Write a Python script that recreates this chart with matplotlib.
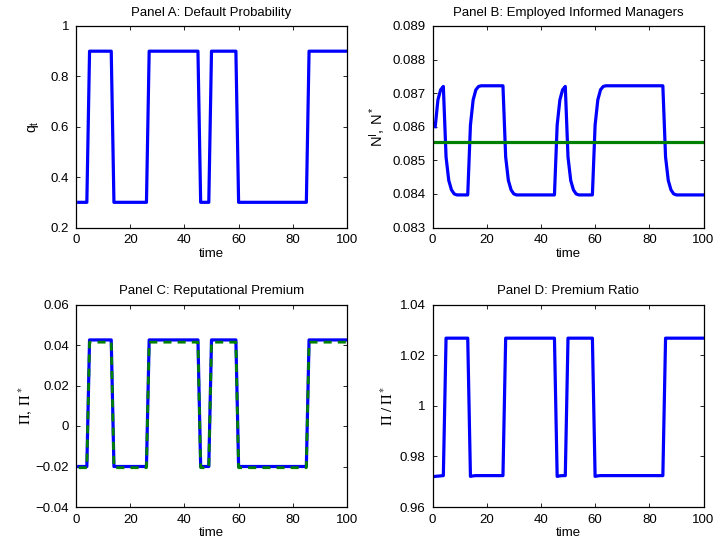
import numpy as np
import matplotlib
matplotlib.use("Agg")
import matplotlib.pyplot as plt
from matplotlib.ticker import FuncFormatter, MultipleLocator

plt.rcParams['font.family'] = ['Liberation Sans', 'DejaVu Sans']
plt.rcParams['mathtext.fontset'] = 'custom'
plt.rcParams['mathtext.rm'] = 'Liberation Sans'
plt.rcParams['mathtext.it'] = 'Liberation Sans:italic'
plt.rcParams['mathtext.bf'] = 'Liberation Sans:bold'

# ---------------- data ----------------
time = np.arange(1, 101)

q_t = [
    0.3, 0.3, 0.3, 0.3, 0.9, 0.9, 0.9, 0.9, 0.9, 0.9,
    0.9, 0.9, 0.9, 0.3, 0.3, 0.3, 0.3, 0.3, 0.3, 0.3,
    0.3, 0.3, 0.3, 0.3, 0.3, 0.3, 0.9, 0.9, 0.9, 0.9,
    0.9, 0.9, 0.9, 0.9, 0.9, 0.9, 0.9, 0.9, 0.9, 0.9,
    0.9, 0.9, 0.9, 0.9, 0.9, 0.3, 0.3, 0.3, 0.3, 0.9,
    0.9, 0.9, 0.9, 0.9, 0.9, 0.9, 0.9, 0.9, 0.9, 0.3,
    0.3, 0.3, 0.3, 0.3, 0.3, 0.3, 0.3, 0.3, 0.3, 0.3,
    0.3, 0.3, 0.3, 0.3, 0.3, 0.3, 0.3, 0.3, 0.3, 0.3,
    0.3, 0.3, 0.3, 0.3, 0.3, 0.9, 0.9, 0.9, 0.9, 0.9,
    0.9, 0.9, 0.9, 0.9, 0.9, 0.9, 0.9, 0.9, 0.9, 0.9,
]

N_I = [
    0.08600, 0.08680, 0.08710, 0.08720, 0.08510, 0.08440, 0.08412, 0.08400, 0.08397, 0.08397,
    0.08397, 0.08397, 0.08397, 0.08605, 0.08680, 0.08710, 0.08720, 0.08722, 0.08722, 0.08722,
    0.08722, 0.08722, 0.08722, 0.08722, 0.08722, 0.08722, 0.08510, 0.08440, 0.08412, 0.08400,
    0.08397, 0.08397, 0.08397, 0.08397, 0.08397, 0.08397, 0.08397, 0.08397, 0.08397, 0.08397,
    0.08397, 0.08397, 0.08397, 0.08397, 0.08397, 0.08605, 0.08680, 0.08710, 0.08720, 0.08510,
    0.08440, 0.08412, 0.08400, 0.08397, 0.08397, 0.08397, 0.08397, 0.08397, 0.08397, 0.08605,
    0.08680, 0.08710, 0.08720, 0.08722, 0.08722, 0.08722, 0.08722, 0.08722, 0.08722, 0.08722,
    0.08722, 0.08722, 0.08722, 0.08722, 0.08722, 0.08722, 0.08722, 0.08722, 0.08722, 0.08722,
    0.08722, 0.08722, 0.08722, 0.08722, 0.08722, 0.08510, 0.08440, 0.08412, 0.08400, 0.08397,
    0.08397, 0.08397, 0.08397, 0.08397, 0.08397, 0.08397, 0.08397, 0.08397, 0.08397, 0.08397,
]

N_star = 0.08556

Pi = [
    -0.0200, -0.0200, -0.0200, -0.0200, 0.0425, 0.0425, 0.0425, 0.0425, 0.0425, 0.0425,
    0.0425, 0.0425, 0.0425, -0.0200, -0.0200, -0.0200, -0.0200, -0.0200, -0.0200, -0.0200,
    -0.0200, -0.0200, -0.0200, -0.0200, -0.0200, -0.0200, 0.0425, 0.0425, 0.0425, 0.0425,
    0.0425, 0.0425, 0.0425, 0.0425, 0.0425, 0.0425, 0.0425, 0.0425, 0.0425, 0.0425,
    0.0425, 0.0425, 0.0425, 0.0425, 0.0425, -0.0200, -0.0200, -0.0200, -0.0200, 0.0425,
    0.0425, 0.0425, 0.0425, 0.0425, 0.0425, 0.0425, 0.0425, 0.0425, 0.0425, -0.0200,
    -0.0200, -0.0200, -0.0200, -0.0200, -0.0200, -0.0200, -0.0200, -0.0200, -0.0200, -0.0200,
    -0.0200, -0.0200, -0.0200, -0.0200, -0.0200, -0.0200, -0.0200, -0.0200, -0.0200, -0.0200,
    -0.0200, -0.0200, -0.0200, -0.0200, -0.0200, 0.0425, 0.0425, 0.0425, 0.0425, 0.0425,
    0.0425, 0.0425, 0.0425, 0.0425, 0.0425, 0.0425, 0.0425, 0.0425, 0.0425, 0.0425,
]

Pi_star = [
    -0.0206, -0.0206, -0.0206, -0.0206, 0.0414, 0.0414, 0.0414, 0.0414, 0.0414, 0.0414,
    0.0414, 0.0414, 0.0414, -0.0206, -0.0206, -0.0206, -0.0206, -0.0206, -0.0206, -0.0206,
    -0.0206, -0.0206, -0.0206, -0.0206, -0.0206, -0.0206, 0.0414, 0.0414, 0.0414, 0.0414,
    0.0414, 0.0414, 0.0414, 0.0414, 0.0414, 0.0414, 0.0414, 0.0414, 0.0414, 0.0414,
    0.0414, 0.0414, 0.0414, 0.0414, 0.0414, -0.0206, -0.0206, -0.0206, -0.0206, 0.0414,
    0.0414, 0.0414, 0.0414, 0.0414, 0.0414, 0.0414, 0.0414, 0.0414, 0.0414, -0.0206,
    -0.0206, -0.0206, -0.0206, -0.0206, -0.0206, -0.0206, -0.0206, -0.0206, -0.0206, -0.0206,
    -0.0206, -0.0206, -0.0206, -0.0206, -0.0206, -0.0206, -0.0206, -0.0206, -0.0206, -0.0206,
    -0.0206, -0.0206, -0.0206, -0.0206, -0.0206, 0.0414, 0.0414, 0.0414, 0.0414, 0.0414,
    0.0414, 0.0414, 0.0414, 0.0414, 0.0414, 0.0414, 0.0414, 0.0414, 0.0414, 0.0414,
]

ratio = [
    0.9721, 0.9722, 0.9723, 0.9724, 1.0267, 1.0267, 1.0267, 1.0267, 1.0267, 1.0267,
    1.0267, 1.0267, 1.0267, 0.9721, 0.9723, 0.9724, 0.9724, 0.9724, 0.9724, 0.9724,
    0.9724, 0.9724, 0.9724, 0.9724, 0.9724, 0.9724, 1.0267, 1.0267, 1.0267, 1.0267,
    1.0267, 1.0267, 1.0267, 1.0267, 1.0267, 1.0267, 1.0267, 1.0267, 1.0267, 1.0267,
    1.0267, 1.0267, 1.0267, 1.0267, 1.0267, 0.9721, 0.9723, 0.9724, 0.9724, 1.0267,
    1.0267, 1.0267, 1.0267, 1.0267, 1.0267, 1.0267, 1.0267, 1.0267, 1.0267, 0.9721,
    0.9723, 0.9724, 0.9724, 0.9724, 0.9724, 0.9724, 0.9724, 0.9724, 0.9724, 0.9724,
    0.9724, 0.9724, 0.9724, 0.9724, 0.9724, 0.9724, 0.9724, 0.9724, 0.9724, 0.9724,
    0.9724, 0.9724, 0.9724, 0.9724, 0.9724, 1.0267, 1.0267, 1.0267, 1.0267, 1.0267,
    1.0267, 1.0267, 1.0267, 1.0267, 1.0267, 1.0267, 1.0267, 1.0267, 1.0267, 1.0267,
]

titles = ["Panel A: Default Probability", "Panel B: Employed Informed Managers",
          "Panel C: Reputational Premium", "Panel D: Premium Ratio"]

# ---------------- figure ----------------
W, H = 713, 547
fig = plt.figure(figsize=(W / 100, H / 100), dpi=100)

def px_axes(l, t, r, b):
    return fig.add_axes([l / W, 1 - b / H, (r - l) / W, (b - t) / H])

axA = px_axes(76, 26, 347, 227.5)
axB = px_axes(432.5, 26, 703.5, 227.5)
axC = px_axes(76, 304.5, 347, 507)
axD = px_axes(432.5, 304.5, 703.5, 507)

BLUE = (0, 0, 1)
GREEN = (0, 0.5, 0)
FS = 9.5

def fmt(v, pos):
    s = f"{v:g}"
    return s.replace("-", "\u2212")

def style(ax, title, ylim, ystep):
    ax.set_xlim(0, 100)
    ax.set_ylim(*ylim)
    ax.xaxis.set_major_locator(MultipleLocator(20))
    ax.yaxis.set_major_locator(MultipleLocator(ystep))
    ax.xaxis.set_major_formatter(FuncFormatter(fmt))
    ax.yaxis.set_major_formatter(FuncFormatter(fmt))
    ax.tick_params(direction='in', top=True, right=True, length=3, width=0.6,
                   labelsize=FS, pad=5, colors='black')
    for sp in ax.spines.values():
        sp.set_linewidth(0.9)
    ax.set_title(title, fontsize=FS, pad=7.5)
    ax.set_xlabel("time", fontsize=FS, labelpad=1)

axA.plot(time, q_t, color=BLUE, lw=2.3)
style(axA, titles[0], (0.2, 1.0), 0.2)
axA.set_ylabel(r"q$_\mathrm{t}$", fontsize=FS + 0.5)
axA.yaxis.set_label_coords(-0.13, 0.5)

axB.plot(time, N_I, color=BLUE, lw=2.3)
axB.axhline(N_star, color=GREEN, lw=2.3)
style(axB, titles[1], (0.083, 0.089), 0.001)
axB.set_ylabel(r"N$^\mathrm{I}$, N$^*$", fontsize=FS + 1)
axB.yaxis.set_label_coords(-0.165, 0.5)

axC.plot(time, Pi, color=BLUE, lw=2.3)
axC.plot(time, Pi_star, color=GREEN, lw=2.0, dashes=(2.9, 2.2))
style(axC, titles[2], (-0.04, 0.06), 0.02)
axC.set_ylabel(r"$\Pi,\ \Pi^*$", fontsize=FS + 1, math_fontfamily='stix')
axC.yaxis.set_label_coords(-0.155, 0.5)

axD.plot(time, ratio, color=BLUE, lw=2.3)
style(axD, titles[3], (0.96, 1.04), 0.02)
axD.set_ylabel(r"$\Pi\ /\ \Pi^*$", fontsize=FS + 1, math_fontfamily='stix')
axD.yaxis.set_label_coords(-0.135, 0.5)

fig.savefig("out.png", dpi=100)
